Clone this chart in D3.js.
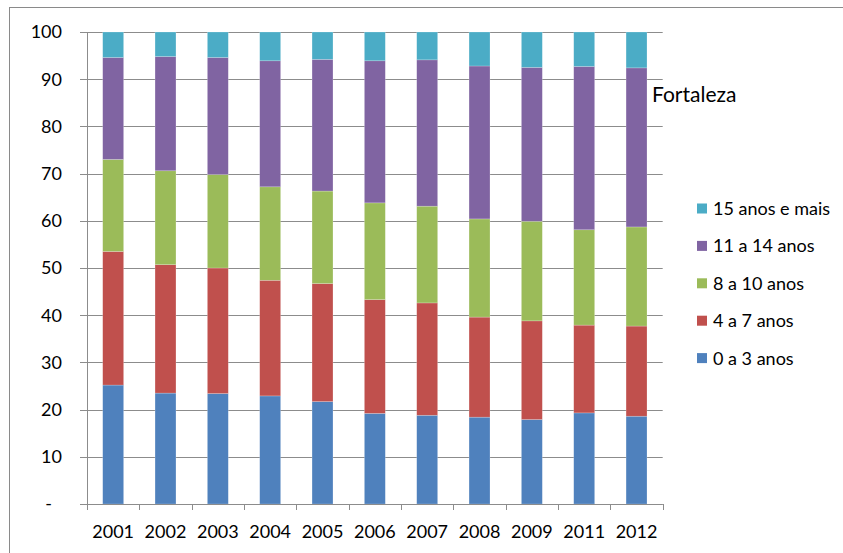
<!DOCTYPE html>
<html>
<head>
<meta charset="utf-8">
<script src="https://cdn.jsdelivr.net/npm/d3@7"></script>
<style>
  body { margin: 0; background: #fff; }
  svg { display: block; font-family: Lato, "Open Sans", sans-serif; }
</style>
</head>
<body>
<svg id="chart" width="843" height="553"></svg>
<script>
const years = ["2001","2002","2003","2004","2005","2006","2007","2008","2009","2011","2012"];
const seriesNames = ["0 a 3 anos","4 a 7 anos","8 a 10 anos","11 a 14 anos","15 anos e mais"];
const s0a3   = [25.2, 23.5, 23.4, 22.9, 21.7, 19.2, 18.8, 18.4, 17.9, 19.3, 18.6];
const s4a7   = [28.3, 27.2, 26.6, 24.5, 25.0, 24.1, 23.8, 21.2, 20.9, 18.6, 19.1];
const s8a10  = [19.5, 19.9, 19.8, 19.8, 19.6, 20.5, 20.5, 20.8, 21.1, 20.2, 21.0];
const s11a14 = [21.6, 24.2, 24.8, 26.7, 27.9, 30.1, 31.0, 32.4, 32.6, 34.6, 33.7];
const s15    = [5.4, 5.2, 5.4, 6.1, 5.8, 6.1, 5.9, 7.2, 7.5, 7.3, 7.6];
const yTicks = [0, 10, 20, 30, 40, 50, 60, 70, 80, 90, 100];
const title = "Fortaleza";

const colors = ["#4F81BD", "#C0504D", "#9BBB59", "#8064A2", "#4BACC6"];
const seriesVals = [s0a3, s4a7, s8a10, s11a14, s15];

const rows = years.map((yr, i) => {
  const r = { year: yr };
  seriesNames.forEach((n, k) => r[n] = seriesVals[k][i]);
  return r;
});

const svg = d3.select("#chart");
const pLeft = 87, pRight = 662.7, pTop = 32, pBottom = 504;

// outer frame
svg.append("rect").attr("x", 9.5).attr("y", 7.5).attr("width", 860).attr("height", 560)
  .attr("fill", "none").attr("stroke", "#8a8a8a").attr("stroke-width", 1);

const x = d3.scaleBand().domain(years).range([pLeft, pRight]).paddingInner(0.6).paddingOuter(0.3);
const xb = d3.scaleBand().domain(years).range([pLeft, pRight]);
const y = d3.scaleLinear().domain([0, 100]).range([pBottom, pTop]);

// gridlines
svg.append("g").selectAll("line").data(yTicks).join("line")
  .attr("x1", pLeft - 7).attr("x2", pRight)
  .attr("y1", d => Math.round(y(d)) + 0.5).attr("y2", d => Math.round(y(d)) + 0.5)
  .attr("stroke", "#8c8c8c").attr("stroke-width", 1);

// bars
const stack = d3.stack().keys(seriesNames)(rows);
svg.append("g").selectAll("g").data(stack).join("g")
  .attr("fill", (d, i) => colors[i])
  .selectAll("rect").data(d => d).join("rect")
  .attr("x", d => x(d.data.year))
  .attr("width", x.bandwidth())
  .attr("y", d => y(d[1]))
  .attr("height", d => y(d[0]) - y(d[1]))
  .attr("stroke", "rgba(255,255,255,0.35)").attr("stroke-width", 0.6);

// y axis line
svg.append("line").attr("x1", pLeft + 0.5).attr("x2", pLeft + 0.5).attr("y1", pTop).attr("y2", pBottom)
  .attr("stroke", "#8c8c8c");
// x axis line
svg.append("line").attr("x1", pLeft - 7).attr("x2", pRight).attr("y1", pBottom + 0.5).attr("y2", pBottom + 0.5)
  .attr("stroke", "#8c8c8c");
// x ticks at band boundaries
const bounds = years.map(d => xb(d)).concat([pRight]);
svg.append("g").selectAll("line").data(bounds).join("line")
  .attr("x1", d => Math.round(d) + 0.5).attr("x2", d => Math.round(d) + 0.5)
  .attr("y1", pBottom).attr("y2", pBottom + 6)
  .attr("stroke", "#8c8c8c");

// y labels
svg.append("g").selectAll("text").data(yTicks).join("text")
  .attr("x", d => d === 0 ? 52 : 62)
  .attr("y", d => y(d))
  .attr("dy", "0.35em")
  .attr("text-anchor", "end")
  .attr("font-size", 18)
  .attr("fill", "#000")
  .text(d => d === 0 ? "-" : d);

// x labels
svg.append("g").selectAll("text").data(years).join("text")
  .attr("x", d => xb(d) + xb.bandwidth() / 2)
  .attr("y", 538)
  .attr("text-anchor", "middle")
  .attr("font-size", 18)
  .attr("fill", "#000")
  .text(d => d);

// title
svg.append("text").attr("x", 652).attr("y", 102).attr("font-size", 21).attr("fill", "#000").text(title);

// legend (reverse order)
const legendItems = seriesNames.map((n, i) => ({ n, c: colors[i] })).reverse();
const lg = svg.append("g").selectAll("g").data(legendItems).join("g")
  .attr("transform", (d, i) => `translate(697, ${208.5 + i * 37.4})`);
lg.append("rect").attr("x", 0).attr("y", -5).attr("width", 10).attr("height", 10).attr("fill", d => d.c);
lg.append("text").attr("x", 16).attr("y", 0).attr("dy", "0.36em").attr("font-size", 18).attr("fill", "#000").text(d => d.n);
</script>
</body>
</html>
